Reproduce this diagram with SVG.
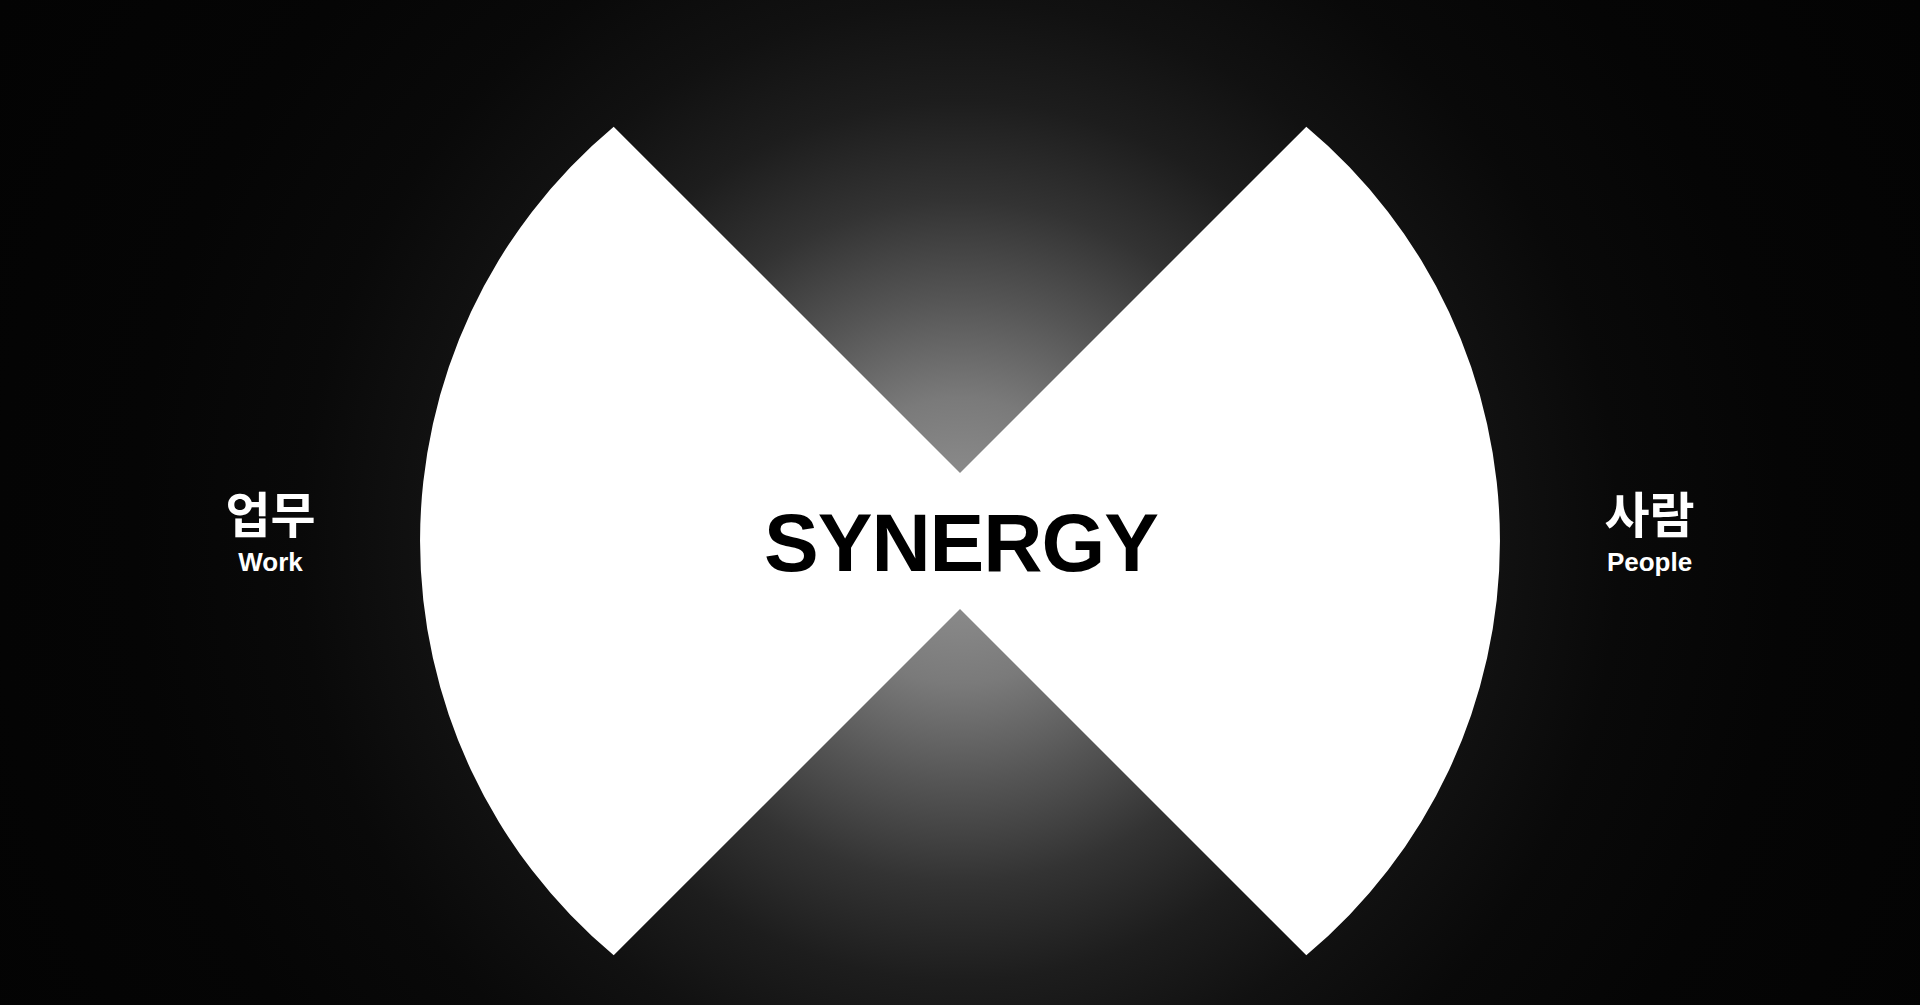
<svg xmlns="http://www.w3.org/2000/svg" width="1920" height="1005" viewBox="0 0 1920 1005">
  <defs>
    <radialGradient id="glow" gradientUnits="userSpaceOnUse" cx="960" cy="541" r="1100">
      <stop offset="0" stop-color="#929292"/>
      <stop offset="0.06" stop-color="#8a8a8a"/>
      <stop offset="0.13" stop-color="#7a7a7a"/>
      <stop offset="0.22" stop-color="#555555"/>
      <stop offset="0.31" stop-color="#333333"/>
      <stop offset="0.40" stop-color="#1d1d1d"/>
      <stop offset="0.49" stop-color="#111111"/>
      <stop offset="0.6" stop-color="#090909"/>
      <stop offset="0.75" stop-color="#050505"/>
      <stop offset="1" stop-color="#030303"/>
    </radialGradient>
    <style>
      .title { font-family: "Liberation Sans", Arial, sans-serif; font-weight: 700; text-anchor: middle; }
      .ko { font-family: "Noto Sans CJK KR", "Noto Sans", sans-serif; font-weight: 700; text-anchor: middle; fill: #ffffff; }
      .en { font-family: "Liberation Sans", Arial, sans-serif; font-weight: 700; text-anchor: middle; fill: #ffffff; }
    </style>
  </defs>
  <rect id="background" x="0" y="0" width="1920" height="1005" fill="url(#glow)"/>
  <g id="synergy">
    <path d="M 960 473 L 1306.3 126.7 A 540 540 0 0 1 1306.3 955.3 L 960 609 L 613.7 955.3 A 540 540 0 0 1 613.7 126.7 Z" fill="#ffffff"/>
    <text class="title" x="961" y="571" font-size="82" letter-spacing="-1" fill="#000000">SYNERGY</text>
  </g>
  <g id="work">
    <text class="ko" x="270.5" y="533" font-size="49">업무</text>
    <text class="en" x="270.5" y="571" font-size="26">Work</text>
  </g>
  <g id="people">
    <text class="ko" x="1649.5" y="533" font-size="49">사람</text>
    <text class="en" x="1649.5" y="571" font-size="26">People</text>
  </g>
  <g id="connectors"/>
</svg>
